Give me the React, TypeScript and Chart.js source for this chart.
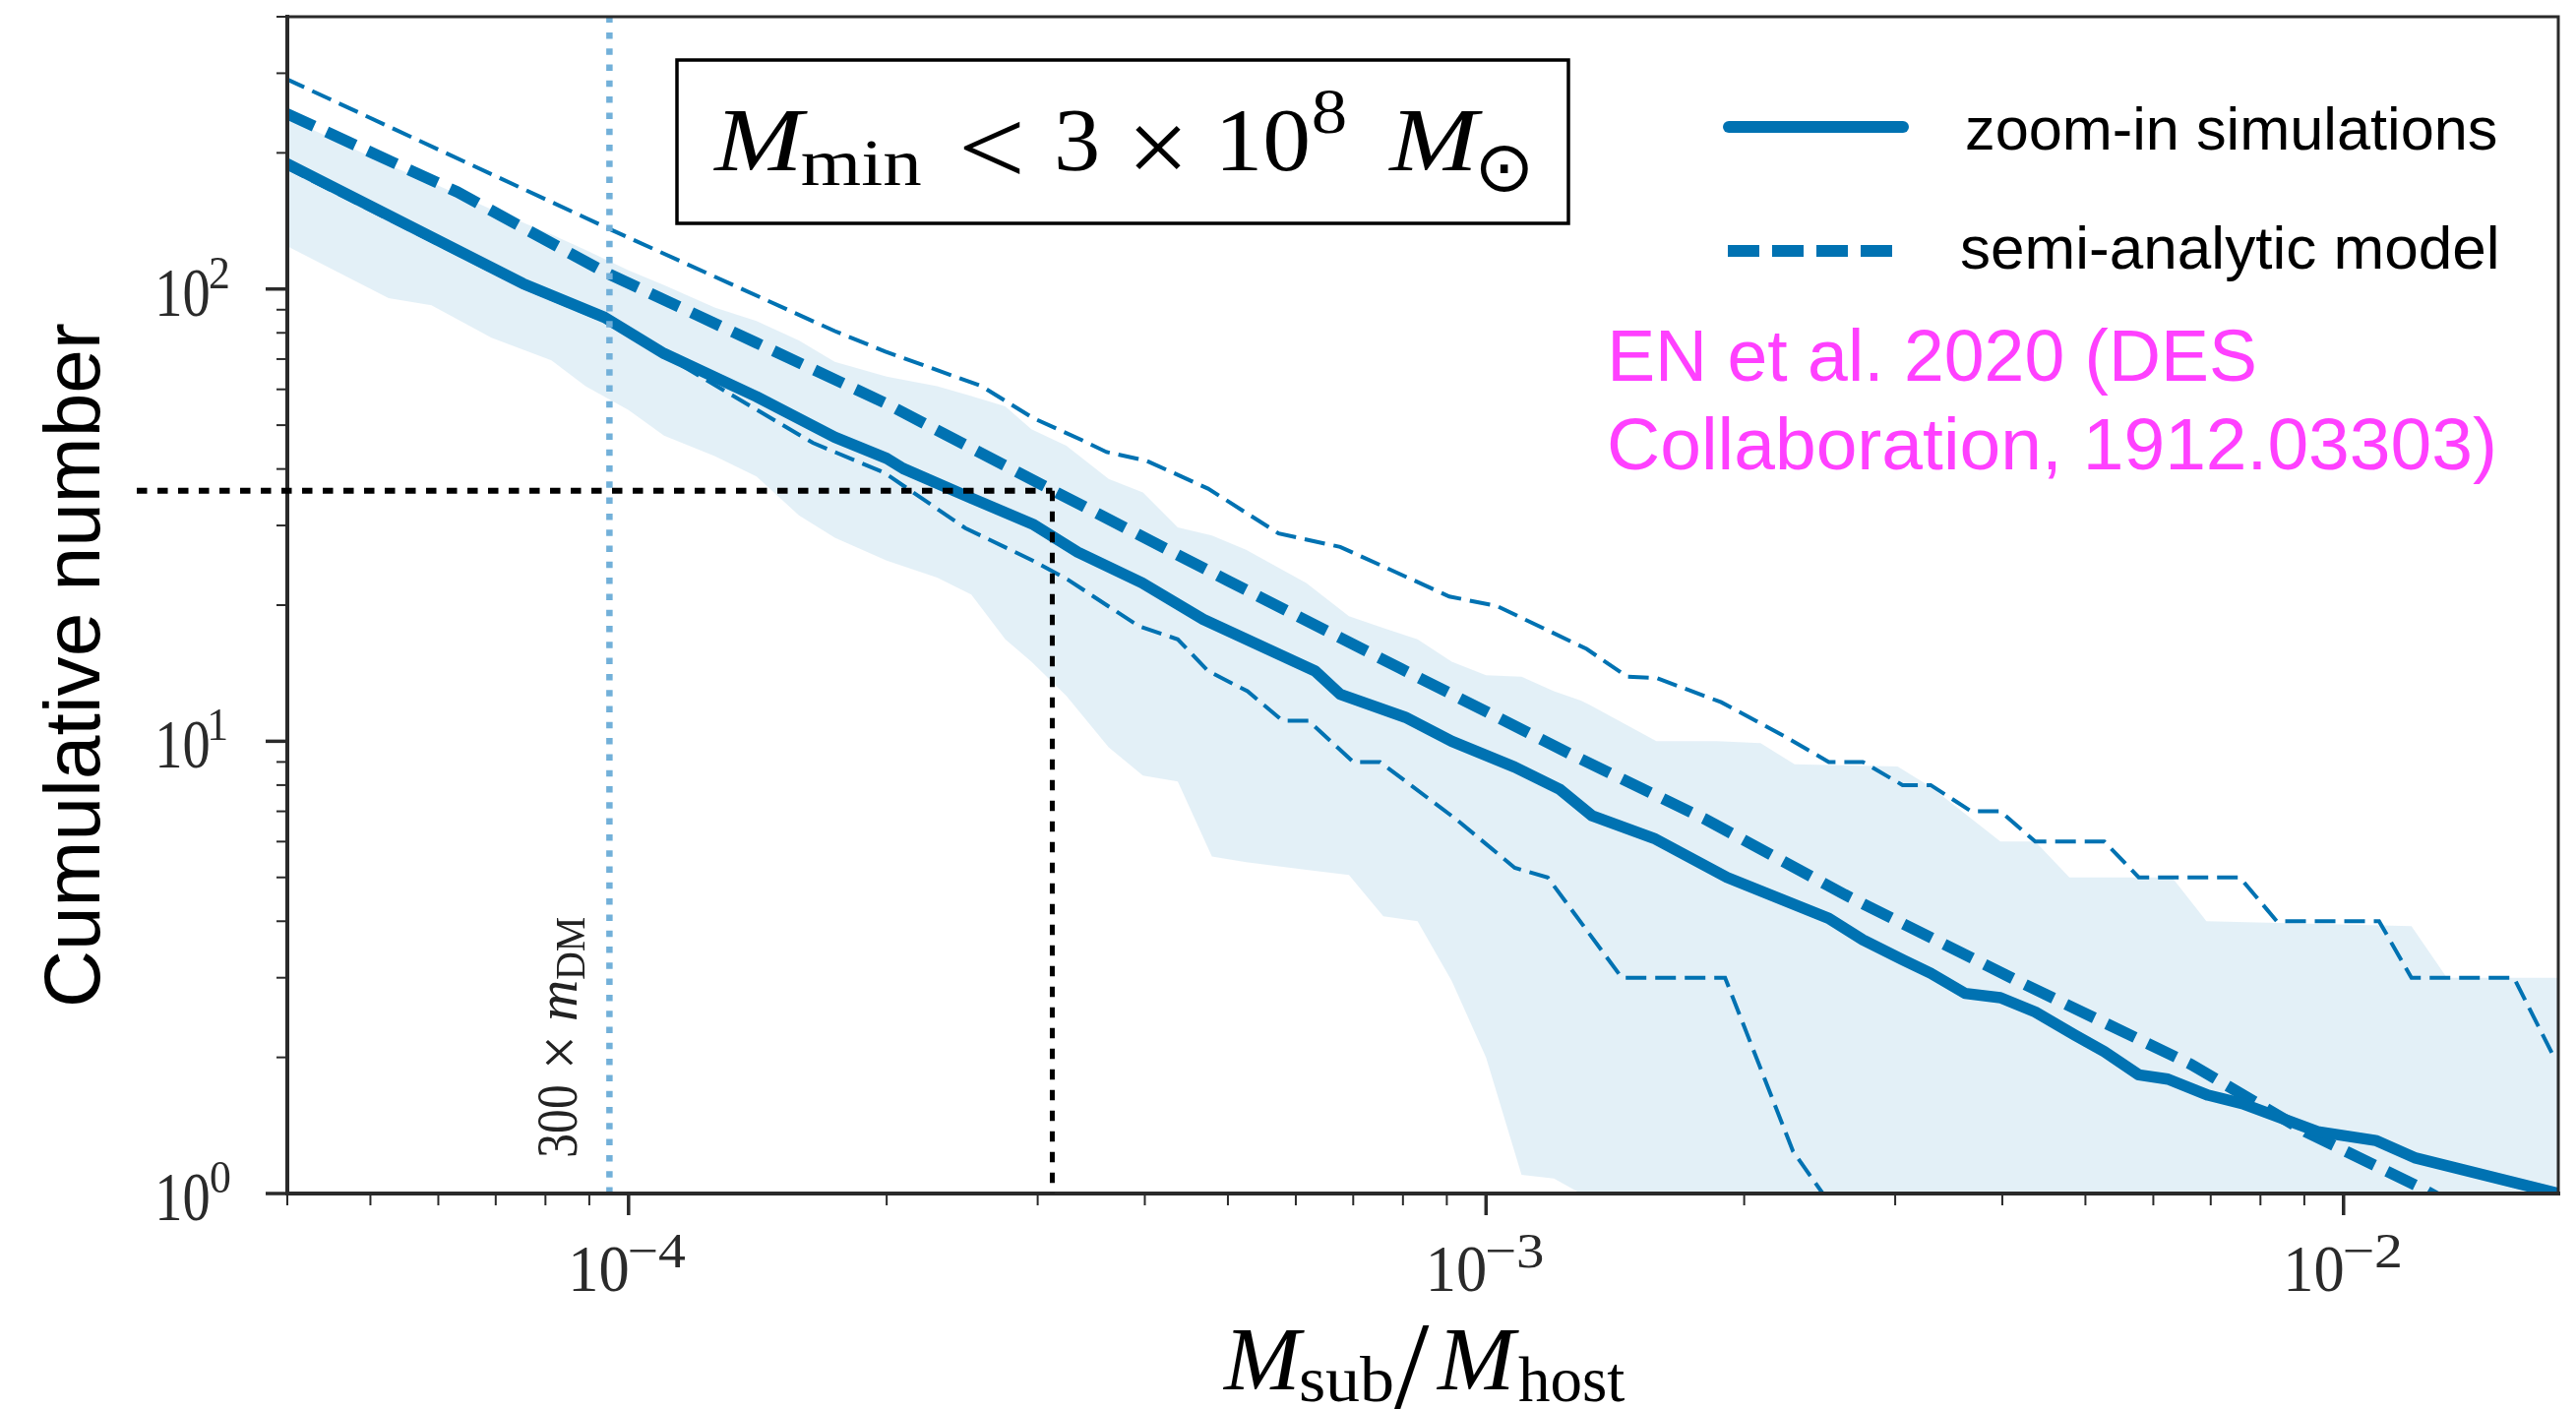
import React, { useEffect, useRef } from "react";
import { Chart, registerables } from "chart.js";

Chart.register(...registerables);

// ---- styling -------------------------------------------------------------
const SERIF = '"Liberation Serif", "DejaVu Serif", serif';
const SANS = '"Liberation Sans", Arial, Helvetica, sans-serif';
const BLUE = "#0072b2";
const BAND = "rgba(1, 115, 178, 0.11)";
const LIMIT_BLUE = "#72b0d9";
const AXIS = "#2a2a2a";
const NOTE = "#ff40ff";

// ---- data: cumulative subhalo count vs. M_sub / M_host -------------------
// zoom-in simulations (median)
const simMass = [3.98e-5, 7.53e-5, 9.38e-5, 1.1e-4, 1.41e-4, 1.74e-4, 2.0e-4, 2.09e-4, 2.51e-4, 2.96e-4, 3.34e-4, 3.97e-4, 4.68e-4, 6.32e-4, 6.76e-4, 8.05e-4, 9.12e-4, 1.08e-3, 1.22e-3, 1.33e-3, 1.57e-3, 1.91e-3, 2.51e-3, 2.75e-3, 3.06e-3, 3.3e-3, 3.62e-3, 3.98e-3, 4.37e-3, 4.86e-3, 5.26e-3, 5.77e-3, 6.24e-3, 6.95e-3, 7.62e-3, 9.33e-3, 1.09e-2, 1.21e-2, 1.78e-2];
const simCount = [190, 102.8, 86.5, 72, 57.8, 47, 42.2, 40.1, 34.5, 30.2, 26.2, 22.4, 18.6, 14.3, 12.7, 11.3, 10.0, 8.77, 7.82, 6.84, 6.1, 5.0, 4.06, 3.64, 3.29, 3.07, 2.77, 2.71, 2.52, 2.24, 2.06, 1.83, 1.79, 1.65, 1.58, 1.37, 1.31, 1.2, 1.0];

// semi-analytic model (mean)
const samMass = [3.98e-5, 6.31e-5, 9.38e-5, 1.41e-4, 1.99e-4, 3.13e-4, 5.01e-4, 7.94e-4, 1.25e-3, 1.8e-3, 2.62e-3, 4.17e-3, 6.64e-3, 9.03e-3, 1.23e-2, 1.41e-2];
const samCount = [245, 164, 109, 76, 56, 35.8, 22.6, 14.5, 9.4, 6.73, 4.58, 2.95, 1.93, 1.37, 1.03, 0.89];

// semi-analytic model, upper envelope
const samHighMass = [3.98e-5, 9.48e-5, 1.74e-4, 1.99e-4, 2.58e-4, 2.96e-4, 3.39e-4, 3.61e-4, 4.02e-4, 4.74e-4, 5.73e-4, 6.76e-4, 9.06e-4, 1.03e-3, 1.31e-3, 1.46e-3, 1.58e-3, 1.88e-3, 2.24e-3, 2.51e-3, 2.75e-3, 3.06e-3, 3.3e-3, 3.68e-3, 3.98e-3, 4.37e-3, 5.26e-3, 5.77e-3, 7.57e-3, 8.36e-3, 1.1e-2, 1.2e-2, 1.58e-2, 1.76e-2];
const samHighCount = [292, 136, 80.7, 72.8, 61, 51.9, 46.2, 43.6, 41.7, 36.2, 28.8, 26.9, 20.9, 19.9, 16, 13.9, 13.8, 12.2, 10.2, 9, 9, 8, 8, 7, 7, 6, 6, 5, 5, 4, 4, 3, 3, 2];

// semi-analytic model, lower envelope
const samLowMass = [3.98e-5, 7.53e-5, 9.38e-5, 1.13e-4, 1.64e-4, 1.99e-4, 2.47e-4, 2.96e-4, 3.25e-4, 3.93e-4, 4.37e-4, 4.74e-4, 5.27e-4, 5.79e-4, 6.21e-4, 7.0e-4, 7.52e-4, 9.25e-4, 1.08e-3, 1.18e-3, 1.44e-3, 1.9e-3, 2.28e-3, 2.47e-3, 3.55e-3, 3.63e-3];
const samLowCount = [186, 101, 85, 69.3, 45.7, 39.2, 29.6, 25.1, 22.8, 18, 16.8, 14.3, 12.9, 11.1, 11.1, 9, 9, 6.7, 5.25, 5, 3, 3, 1.24, 1, 1, 0.5];

// host-to-host scatter of the simulations (shaded band)
const bandMass = [3.98e-5, 5.25e-5, 5.89e-5, 6.92e-5, 8.13e-5, 8.91e-5, 1.0e-4, 1.1e-4, 1.26e-4, 1.41e-4, 1.58e-4, 1.74e-4, 2.0e-4, 2.29e-4, 2.51e-4, 2.75e-4, 2.95e-4, 3.24e-4, 3.63e-4, 3.98e-4, 4.37e-4, 4.79e-4, 5.25e-4, 6.17e-4, 6.92e-4, 7.59e-4, 8.32e-4, 9.12e-4, 1.0e-3, 1.1e-3, 1.2e-3, 1.29e-3, 1.32e-3, 1.58e-3, 1.86e-3, 2.09e-3, 2.29e-3, 3.02e-3, 3.31e-3, 3.98e-3, 4.37e-3, 4.79e-3, 6.31e-3, 6.92e-3, 1.2e-2, 1.32e-2, 1.78e-2];
const bandHigh = [240, 188, 172, 150, 132, 122, 110, 102, 91, 85, 77, 69, 64, 61, 58, 55, 49, 45, 38, 35.5, 29.7, 28.5, 26.5, 22.4, 18.9, 17.8, 16.8, 15, 14, 13.9, 12.9, 12.3, 12.05, 10, 10, 9.9, 8.9, 8.8, 7.9, 6, 6, 5, 5, 4, 3.9, 3, 3];
const bandLow = [125, 95.5, 92, 78, 69.5, 61, 54, 47.4, 42.7, 38.5, 31.6, 28.2, 25.1, 23, 21.1, 16.8, 15, 12.6, 9.7, 8.4, 8.15, 5.56, 5.4, 5.2, 5.06, 4.1, 4.0, 2.95, 2.0, 1.1, 1.08, 1.0, 0.5, 0.5, 0.5, 0.5, 0.5, 0.5, 0.5, 0.5, 0.5, 0.5, 0.5, 0.5, 0.5, 0.5, 0.5];

// 300 x m_DM resolution limit and the marked reading
const resolutionLimit = 9.5e-5;
const markerMass = 3.12e-4;
const markerCount = 35.8;
const markerStartMass = 2.67e-5;

// axes
const xRange = [4e-5, 1.78e-2];
const yRange = [1, 400];
const xMajorTicks = [1e-4, 1e-3, 1e-2];
const xTickExponents = ["\u22124", "\u22123", "\u22122"];
const yMajorTicks = [1, 10, 100];
const yTickExponents = ["0", "1", "2"];

// texts
const legendLabels = ["zoom-in simulations", "semi-analytic model"];
const yAxisTitle = "Cumulative number";
const noteLines = ["EN et al. 2020 (DES", "Collaboration, 1912.03303)"];

// ---- helpers -------------------------------------------------------------
function minorTicks(min: number, max: number): number[] {
  const out: number[] = [];
  for (let d = Math.floor(Math.log10(min)); d <= Math.ceil(Math.log10(max)); d++) {
    for (let k = 2; k <= 9; k++) {
      const v = k * Math.pow(10, d);
      if (v >= min * 0.999 && v <= max * 1.001) out.push(v);
    }
  }
  return out;
}

const pts = (xs: number[], ys: number[]) => xs.map((x, i) => ({ x, y: ys[i] }));

// draw text so that its ink spans x0..x1 on the given baseline
function fitText(ctx: CanvasRenderingContext2D, text: string, font: string, x0: number, x1: number, baseline: number) {
  ctx.font = font;
  const m = ctx.measureText(text);
  const w = m.actualBoundingBoxLeft + m.actualBoundingBoxRight;
  ctx.save();
  ctx.translate(x0, baseline);
  ctx.scale((x1 - x0) / w, 1);
  ctx.fillText(text, m.actualBoundingBoxLeft, 0);
  ctx.restore();
}

// draw a glyph so that its ink fills the box (x0,y0)-(x1,y1)
function fitBox(ctx: CanvasRenderingContext2D, text: string, font: string, x0: number, x1: number, y0: number, y1: number) {
  ctx.font = font;
  const m = ctx.measureText(text);
  const w = m.actualBoundingBoxLeft + m.actualBoundingBoxRight;
  const h = m.actualBoundingBoxAscent + m.actualBoundingBoxDescent;
  ctx.save();
  ctx.translate(x0, y0);
  ctx.scale((x1 - x0) / w, (y1 - y0) / h);
  ctx.fillText(text, m.actualBoundingBoxLeft, m.actualBoundingBoxAscent);
  ctx.restore();
}

// ---- custom drawing: frame, ticks, labels, legend, annotations -----------
const decorations = {
  id: "decorations",
  afterDatasetsDraw(chart: any) {
    const { ctx, chartArea: a, scales } = chart;
    const lx = scales.x.getPixelForValue(resolutionLimit);
    ctx.save();
    ctx.strokeStyle = LIMIT_BLUE;
    ctx.lineWidth = 6.5;
    ctx.setLineDash([6.5, 9.8]);
    ctx.beginPath();
    ctx.moveTo(lx, a.bottom);
    ctx.lineTo(lx, a.top);
    ctx.stroke();
    ctx.restore();
  },
  afterDraw(chart: any) {
    const { ctx, chartArea: a, scales } = chart;
    const xs = scales.x;
    const ys = scales.y;
    ctx.save();
    ctx.textAlign = "left";
    ctx.textBaseline = "alphabetic";

    // frame
    ctx.strokeStyle = AXIS;
    ctx.lineWidth = 3;
    ctx.beginPath();
    ctx.moveTo(a.left, a.top);
    ctx.lineTo(a.right, a.top);
    ctx.lineTo(a.right, a.bottom);
    ctx.stroke();
    ctx.lineWidth = 4;
    ctx.beginPath();
    ctx.moveTo(a.left, a.top - 2);
    ctx.lineTo(a.left, a.bottom);
    ctx.lineTo(a.right + 2, a.bottom);
    ctx.stroke();

    // tick marks
    const tick = (x0: number, y0: number, x1: number, y1: number, w: number) => {
      ctx.lineWidth = w;
      ctx.beginPath();
      ctx.moveTo(x0, y0);
      ctx.lineTo(x1, y1);
      ctx.stroke();
    };
    for (const v of xMajorTicks) {
      const px = xs.getPixelForValue(v);
      tick(px, a.bottom, px, a.bottom + 22, 3.5);
    }
    for (const v of minorTicks(xRange[0], xRange[1])) {
      const px = xs.getPixelForValue(v);
      tick(px, a.bottom, px, a.bottom + 12, 2);
    }
    for (const v of yMajorTicks) {
      const py = ys.getPixelForValue(v);
      tick(a.left, py, a.left - 22, py, 3.5);
    }
    for (const v of minorTicks(yRange[0], yRange[1])) {
      const py = ys.getPixelForValue(v);
      tick(a.left, py, a.left - 11, py, 2);
    }

    // tick labels 10^n
    ctx.fillStyle = AXIS;
    xMajorTicks.forEach((v, i) => {
      const px = xs.getPixelForValue(v);
      fitText(ctx, "10", `68px ${SERIF}`, px - 57, px - 1, a.bottom + 99);
      fitText(ctx, xTickExponents[i], `50px ${SERIF}`, px + 1, px + 58, a.bottom + 75);
    });
    yMajorTicks.forEach((v, i) => {
      const py = ys.getPixelForValue(v);
      fitText(ctx, "10", `70px ${SERIF}`, a.left - 130, a.left - 80, py + 27);
      ctx.font = `46px ${SERIF}`;
      const m = ctx.measureText(yTickExponents[i]);
      ctx.save();
      ctx.translate(a.left - 78, py - 1);
      ctx.scale(0.95, 1);
      ctx.fillText(yTickExponents[i], m.actualBoundingBoxLeft, 0);
      ctx.restore();
    });

    // axis titles
    ctx.fillStyle = "#000";
    fitText(ctx, "M", `italic 92px ${SERIF}`, 1242, 1326, 1412);
    fitText(ctx, "sub", `66px ${SERIF}`, 1322, 1415, 1424);
    fitBox(ctx, "/", `92px ${SERIF}`, 1417, 1453, 1348, 1432);
    fitText(ctx, "M", `italic 92px ${SERIF}`, 1459, 1544, 1412);
    fitText(ctx, "host", `66px ${SERIF}`, 1543, 1651, 1424);

    ctx.save();
    ctx.translate(101, 1020);
    ctx.rotate(-Math.PI / 2);
    fitText(ctx, yAxisTitle, `80px ${SANS}`, 0, 691, 0);
    ctx.restore();

    // resolution limit label
    ctx.fillStyle = "#222";
    ctx.save();
    ctx.translate(586, 1175);
    ctx.rotate(-Math.PI / 2);
    fitText(ctx, "300", `60px ${SERIF}`, 0, 71, 0);
    fitBox(ctx, "\u00d7", `60px ${SERIF}`, 92, 119, -31, -3);
    fitText(ctx, "m", `italic 60px ${SERIF}`, 139, 177, 0);
    fitText(ctx, "DM", `42px ${SERIF}`, 180, 243, 8);
    ctx.restore();

    // mass threshold box
    ctx.fillStyle = "#000";
    ctx.strokeStyle = "#000";
    ctx.lineWidth = 3.5;
    ctx.strokeRect(688, 61, 906, 166);
    fitText(ctx, "M", `italic 92px ${SERIF}`, 724, 821, 173);
    fitText(ctx, "min", `67px ${SERIF}`, 815, 936, 188);
    fitBox(ctx, "<", `92px ${SERIF}`, 979, 1037, 123, 177);
    fitText(ctx, "3", `92px ${SERIF}`, 1075, 1115, 173);
    fitBox(ctx, "\u00d7", `92px ${SERIF}`, 1154, 1200, 128, 173);
    fitText(ctx, "10", `92px ${SERIF}`, 1243, 1329, 173);
    fitText(ctx, "8", `66px ${SERIF}`, 1335, 1367, 135);
    fitText(ctx, "M", `italic 92px ${SERIF}`, 1410, 1507, 173);
    fitBox(ctx, "\u2299", `64px "DejaVu Sans"`, 1504, 1553, 147, 195);

    // legend
    ctx.strokeStyle = BLUE;
    ctx.lineWidth = 12;
    ctx.lineCap = "round";
    ctx.beginPath();
    ctx.moveTo(1757, 129);
    ctx.lineTo(1934, 129);
    ctx.stroke();
    ctx.lineCap = "butt";
    ctx.setLineDash([32, 13]);
    ctx.beginPath();
    ctx.moveTo(1756, 255);
    ctx.lineTo(1923, 255);
    ctx.stroke();
    ctx.setLineDash([]);
    ctx.fillStyle = "#000";
    fitText(ctx, legendLabels[0], `61px ${SANS}`, 1999, 2537, 152);
    fitText(ctx, legendLabels[1], `61px ${SANS}`, 1993, 2537, 273);

    // reference note
    ctx.fillStyle = NOTE;
    fitText(ctx, noteLines[0], `75px ${SANS}`, 1639, 2291, 387);
    fitText(ctx, noteLines[1], `75px ${SANS}`, 1636, 2534, 477);

    // marked reading (dotted guide lines)
    const mx = xs.getPixelForValue(markerMass);
    const my = ys.getPixelForValue(markerCount);
    const sx = xs.getPixelForValue(markerStartMass);
    ctx.strokeStyle = "#000";
    ctx.lineWidth = 6;
    ctx.setLineDash([10.5, 10.5]);
    ctx.beginPath();
    ctx.moveTo(sx, my);
    ctx.lineTo(mx, my);
    ctx.stroke();
    ctx.lineWidth = 5;
    ctx.beginPath();
    ctx.moveTo(mx, my);
    ctx.lineTo(mx, a.bottom);
    ctx.stroke();
    ctx.restore();
  },
};

export default function App() {
  const ref = useRef<HTMLCanvasElement>(null);

  useEffect(() => {
    const canvas = ref.current;
    if (!canvas) return;
    const thin = { borderColor: BLUE, borderWidth: 4, borderDash: [21, 9], borderCapStyle: "butt", pointRadius: 0, fill: false, clip: 0 };
    const chart = new Chart(canvas, {
      type: "line",
      data: {
        datasets: [
          { label: legendLabels[0], data: pts(simMass, simCount), borderColor: BLUE, borderWidth: 11.5, borderCapStyle: "round", borderJoinStyle: "round", pointRadius: 0, fill: false, clip: 0 },
          { label: legendLabels[1], data: pts(samMass, samCount), borderColor: BLUE, borderWidth: 11.5, borderDash: [32, 14], borderCapStyle: "butt", pointRadius: 0, fill: false, clip: 0 },
          { label: "SAM upper", data: pts(samHighMass, samHighCount), ...thin },
          { label: "SAM lower", data: pts(samLowMass, samLowCount), ...thin },
          { label: "simulation range", data: pts(bandMass, bandHigh), borderWidth: 0, borderColor: "rgba(0,0,0,0)", backgroundColor: BAND, fill: "+1", pointRadius: 0, clip: 0 },
          { label: "simulation range low", data: pts(bandMass, bandLow), borderWidth: 0, borderColor: "rgba(0,0,0,0)", pointRadius: 0, fill: false, clip: 0 },
        ] as any,
      },
      options: {
        responsive: false,
        devicePixelRatio: 1,
        animation: false,
        events: [],
        layout: { padding: { left: 292, right: 18, top: 17, bottom: 219 } },
        plugins: { legend: { display: false }, tooltip: { enabled: false } },
        elements: { point: { radius: 0 }, line: { tension: 0 } },
        scales: {
          x: { type: "logarithmic", min: xRange[0], max: xRange[1], display: false },
          y: { type: "logarithmic", min: yRange[0], max: yRange[1], display: false },
        },
      } as any,
      plugins: [decorations],
    });
    return () => chart.destroy();
  }, []);

  return (
    <div style={{ position: "absolute", left: 0, top: 0, width: 2618, height: 1432, background: "#fff" }}>
      <canvas ref={ref} width={2618} height={1432} style={{ display: "block", width: 2618, height: 1432 }} />
    </div>
  );
}
